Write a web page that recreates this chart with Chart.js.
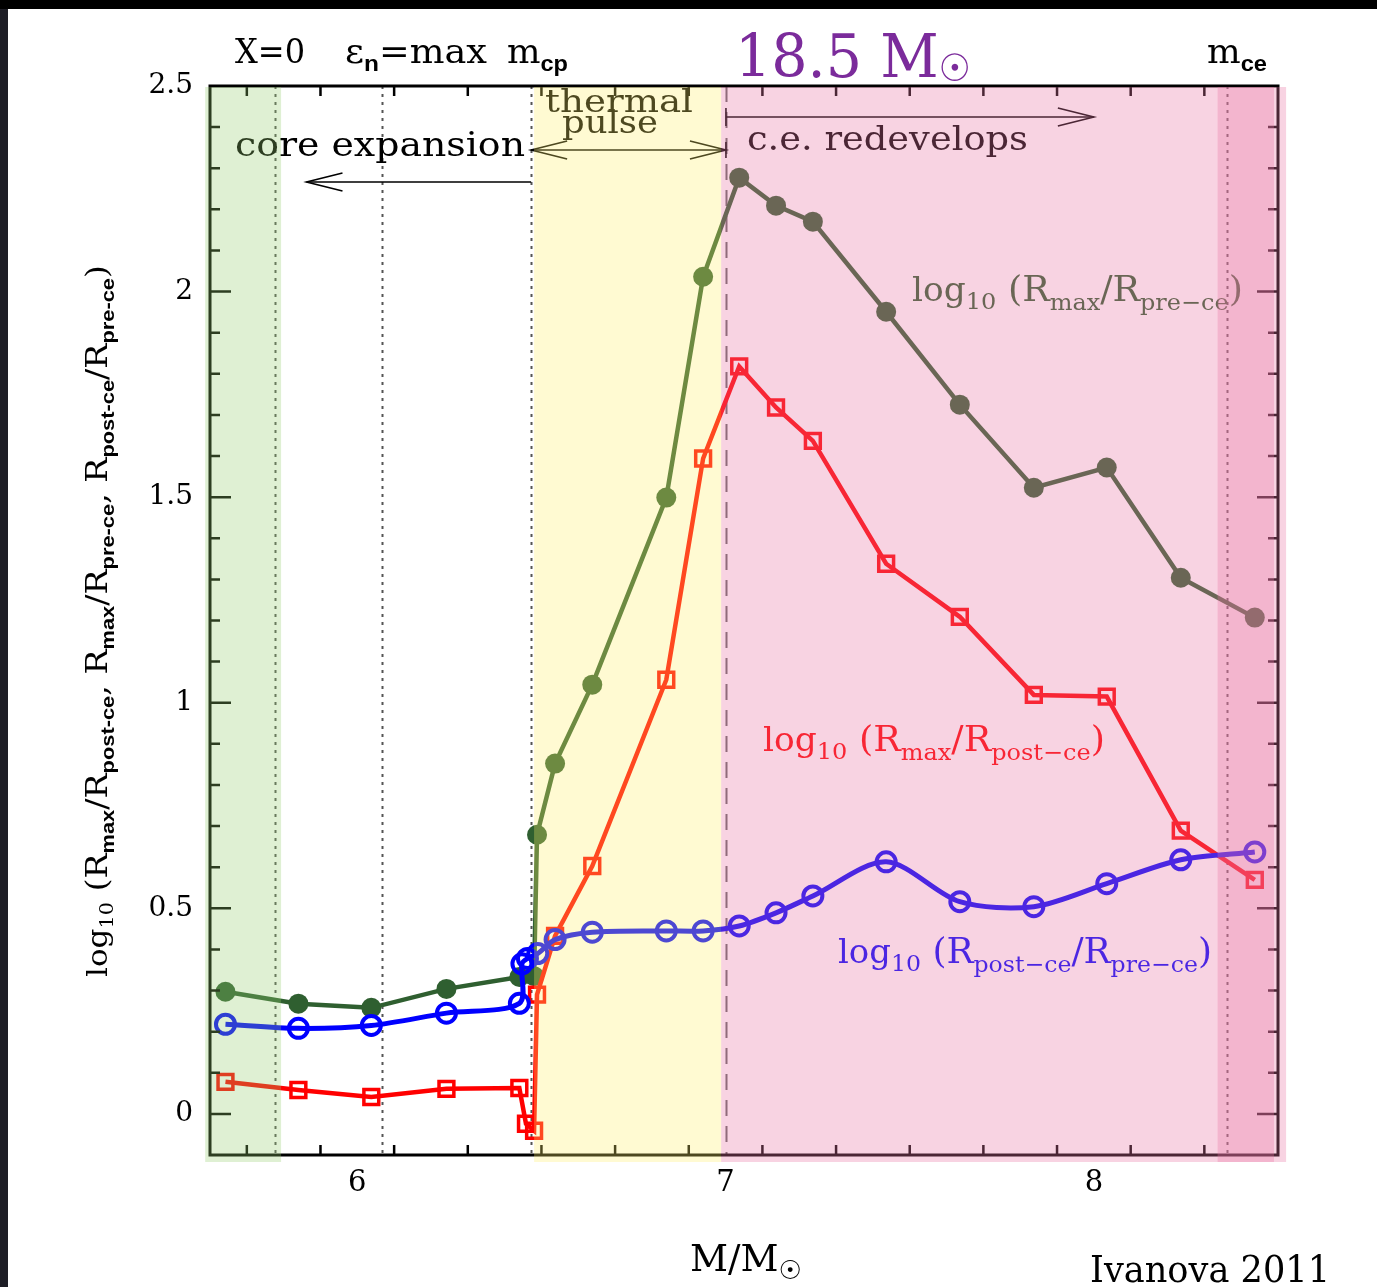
<!DOCTYPE html>
<html>
<head>
<meta charset="utf-8">
<script src="https://cdn.jsdelivr.net/npm/chart.js@4.4.1/dist/chart.umd.min.js"></script>
<style>
  html, body { margin: 0; padding: 0; background: #fff; }
  canvas { display: block; }
</style>
</head>
<body>
<canvas id="chart" width="1377" height="1287"></canvas>
<script>
// core mass coordinate (M/Msun) and the three log ratios
const massGreen = [5.642, 5.840, 6.038, 6.242, 6.440, 6.480, 6.488, 6.537, 6.638, 6.839, 6.939, 7.037, 7.137, 7.237, 7.436, 7.636, 7.837, 8.035, 8.236, 8.437];
const logMaxPre = [0.297, 0.268, 0.258, 0.304, 0.333, 0.335, 0.679, 0.852, 1.044, 1.499, 2.036, 2.277, 2.209, 2.170, 1.951, 1.725, 1.523, 1.572, 1.304, 1.207];

const massRed = [5.642, 5.840, 6.038, 6.242, 6.440, 6.458, 6.480, 6.488, 6.537, 6.638, 6.839, 6.939, 7.037, 7.137, 7.237, 7.436, 7.636, 7.837, 8.035, 8.236, 8.437];
const logMaxPost = [0.078, 0.058, 0.041, 0.061, 0.063, -0.024, -0.041, 0.290, 0.433, 0.603, 1.056, 1.594, 1.818, 1.718, 1.637, 1.338, 1.209, 1.019, 1.015, 0.689, 0.569];

const massBlue = [5.642, 5.840, 6.038, 6.242, 6.440, 6.447, 6.462, 6.490, 6.537, 6.638, 6.839, 6.939, 7.037, 7.137, 7.237, 7.436, 7.636, 7.837, 8.035, 8.236, 8.437];
const logPostPre = [0.218, 0.208, 0.215, 0.245, 0.269, 0.365, 0.378, 0.390, 0.424, 0.442, 0.445, 0.445, 0.457, 0.489, 0.530, 0.613, 0.516, 0.504, 0.560, 0.618, 0.637];

const xTickValues = [6, 7, 8];
const xTickLabels = ['6', '7', '8'];
const yTickValues = [0, 0.5, 1, 1.5, 2, 2.5];
const yTickLabels = ['0', '0.5', '1', '1.5', '2', '2.5'];

// phase markers (vertical lines) and shaded phases
const markerMass = [5.777, 6.068, 6.472, 7.001, 8.361];
const bandFrom = [5.587, 6.480, 6.988, 8.336];
const bandTo = [5.793, 6.988, 8.522, 8.489];

const GREEN = '#2f5f30';
const RED = '#ff0000';
const BLUE = '#0000ff';
const bandFill = ['rgba(148,205,108,0.3)', 'rgba(255,238,105,0.3)', 'rgba(233,118,164,0.32)', 'rgba(233,118,164,0.32)'];

const S = size => size + 'px "DejaVu Serif"';
const B = size => 'bold ' + size + 'px "Liberation Sans"';

function richWidth(ctx, parts) {
  let w = 0;
  for (const p of parts) { ctx.font = p.f; w += ctx.measureText(p.t).width; }
  return w;
}

// draws a run of text pieces (for subscripts) squeezed to a given width
function drawRich(ctx, parts, x, y, width, color, rotate) {
  const nat = richWidth(ctx, parts);
  ctx.save();
  ctx.translate(x, y);
  if (rotate) ctx.rotate(-Math.PI / 2);
  ctx.scale(width / nat, 1);
  ctx.fillStyle = color;
  ctx.textAlign = 'left';
  ctx.textBaseline = 'alphabetic';
  let cx = 0;
  for (const p of parts) {
    ctx.font = p.f;
    ctx.fillText(p.t, cx, p.dy || 0);
    cx += ctx.measureText(p.t).width;
  }
  ctx.restore();
}

function arrowHead(ctx, x, y, dir) {
  ctx.beginPath();
  ctx.moveTo(x - dir * 36, y - 9);
  ctx.lineTo(x, y);
  ctx.lineTo(x - dir * 36, y + 9);
  ctx.stroke();
}

const decor = {
  id: 'decor',
  beforeDraw(chart) {
    const c = chart.ctx;
    c.save();
    c.fillStyle = '#fff';
    c.fillRect(0, 0, chart.width, chart.height);
    c.fillStyle = '#000';
    c.fillRect(0, 0, chart.width, 9);
    c.fillStyle = '#1e1e26';
    c.fillRect(0, 9, 8, chart.height);
    c.restore();
  },
  beforeDatasetsDraw(chart) {
    const c = chart.ctx, a = chart.chartArea, xs = chart.scales.x;
    c.save();
    markerMass.forEach((m, i) => {
      const px = Math.round(xs.getPixelForValue(m)) + 0.5;
      c.strokeStyle = i === 3 ? '#666' : '#555';
      c.lineWidth = 2;
      c.setLineDash(i === 3 ? [16, 10] : [3, 5]);
      c.beginPath();
      c.moveTo(px, a.top);
      c.lineTo(px, a.bottom);
      c.stroke();
    });
    c.restore();
  },
  afterDatasetsDraw(chart) {
    const c = chart.ctx, a = chart.chartArea, xs = chart.scales.x, ys = chart.scales.y;
    c.save();
    // frame
    c.strokeStyle = '#000';
    c.lineWidth = 3;
    c.strokeRect(a.left, a.top, a.right - a.left, a.bottom - a.top);
    // inward ticks on all sides
    c.lineWidth = 2.5;
    c.beginPath();
    for (let k = 29; k < 85; k += 2) {
      const v = k / 10;
      if (v <= xs.min || v >= xs.max) continue;
      const px = xs.getPixelForValue(v);
      const len = k % 10 === 0 ? 21 : 10;
      c.moveTo(px, a.bottom); c.lineTo(px, a.bottom - len);
      c.moveTo(px, a.top); c.lineTo(px, a.top + len);
    }
    for (let k = 0; k < 25; k++) {
      const v = k / 10;
      const py = ys.getPixelForValue(v);
      const len = k % 5 === 0 ? 21 : 10;
      c.moveTo(a.left, py); c.lineTo(a.left + len, py);
      c.moveTo(a.right, py); c.lineTo(a.right - len, py);
    }
    c.stroke();

    // phase arrows
    const xCp = xs.getPixelForValue(markerMass[2]);
    const xTp = xs.getPixelForValue(markerMass[3]);
    c.lineWidth = 1.6;
    c.strokeStyle = '#000';
    c.beginPath();
    c.moveTo(xCp, 182); c.lineTo(xs.getPixelForValue(5.862), 182);
    c.moveTo(xCp, 150); c.lineTo(xTp, 150);
    c.moveTo(xTp, 117); c.lineTo(xs.getPixelForValue(8.0), 117);
    c.moveTo(xTp, 108); c.lineTo(xTp, 126);
    c.moveTo(xTp, 142); c.lineTo(xTp, 158);
    c.stroke();
    arrowHead(c, xs.getPixelForValue(5.862), 182, -1);
    arrowHead(c, xCp, 150, -1);
    arrowHead(c, xTp, 150, 1);
    arrowHead(c, xs.getPixelForValue(8.0), 117, 1);

    drawRich(c, [{t: 'thermal', f: S(32)}], 545, 112, 148, '#000');
    drawRich(c, [{t: 'pulse', f: S(32)}], 562, 133, 96, '#000');
    drawRich(c, [{t: 'core expansion', f: S(33)}], 235, 156, 290, '#000');
    drawRich(c, [{t: 'c.e. redevelops', f: S(33)}], 747, 150, 281, '#000');

    const lab = (r1, r2) => [
      {t: 'log', f: S(33)}, {t: '10', f: S(23), dy: 8}, {t: ' (R', f: S(35)},
      {t: r1, f: S(23), dy: 9}, {t: '/R', f: S(35)}, {t: r2, f: S(23), dy: 9}, {t: ')', f: S(35)}
    ];
    drawRich(c, lab('max', 'pre\u2212ce'), 912, 301, 331, GREEN);
    drawRich(c, lab('max', 'post\u2212ce'), 763, 751, 342, RED);
    drawRich(c, lab('post\u2212ce', 'pre\u2212ce'), 838, 963, 374, BLUE);
    c.restore();
  },
  afterDraw(chart) {
    const c = chart.ctx, xs = chart.scales.x;
    c.save();
    // translucent phase shading laid over everything, as in the original
    bandFrom.forEach((m, i) => {
      const x0 = xs.getPixelForValue(m), x1 = xs.getPixelForValue(bandTo[i]);
      c.fillStyle = bandFill[i];
      c.fillRect(x0, 87, x1 - x0, 1162 - 87);
    });

    // labels above the frame
    drawRich(c, [{t: 'X=0', f: S(33)}], 235, 63, 70, '#000');
    drawRich(c, [{t: '\u03b5', f: S(33)}, {t: 'n', f: B(22), dy: 8}, {t: '=max', f: S(33)}], 345, 63, 142, '#000');
    drawRich(c, [{t: 'm', f: S(33)}, {t: 'cp', f: B(22), dy: 8}], 507, 63, 61, '#000');
    drawRich(c, [{t: 'm', f: S(33)}, {t: 'ce', f: B(22), dy: 8}], 1207, 63, 60, '#000');
    drawRich(c, [{t: '18.5 M', f: S(60)}, {t: '\u2609', f: '38px "DejaVu Sans"', dy: 4}], 735, 77, 236, '#7b2b9b');

    // axis titles and credit
    drawRich(c, [{t: 'M/M', f: S(37)}, {t: '\u2609', f: '26px "DejaVu Sans"', dy: 8}], 690, 1271, 112, '#000');
    drawRich(c, [{t: 'Ivanova 2011', f: S(37)}], 1090, 1282, 240, '#000');
    const yt = [
      {t: 'log', f: S(27)}, {t: '10', f: S(18), dy: 6}, {t: ' (R', f: S(29)},
      {t: 'max', f: B(19), dy: 7}, {t: '/R', f: S(29)}, {t: 'post-ce', f: B(19), dy: 7}, {t: ', R', f: S(29)},
      {t: 'max', f: B(19), dy: 7}, {t: '/R', f: S(29)}, {t: 'pre-ce', f: B(19), dy: 7}, {t: ', R', f: S(29)},
      {t: 'post-ce', f: B(19), dy: 7}, {t: '/R', f: S(29)}, {t: 'pre-ce', f: B(19), dy: 7}, {t: ')', f: S(29)}
    ];
    drawRich(c, yt, 107, 977, 712, '#000', true);
    c.restore();
  }
};

const pts = (xs, ys) => xs.map((m, i) => ({x: m, y: ys[i]}));

new Chart(document.getElementById('chart'), {
  type: 'line',
  data: {
    datasets: [
      {
        label: 'log10(Rpost-ce/Rpre-ce)',
        data: pts(massBlue, logPostPre),
        borderColor: BLUE,
        borderWidth: 5,
        tension: 0.3,
        pointStyle: 'circle',
        pointRadius: 9.5,
        pointBorderWidth: 4,
        pointBorderColor: BLUE,
        pointBackgroundColor: 'rgba(0,0,0,0)',
        order: 0
      },
      {
        label: 'log10(Rmax/Rpost-ce)',
        data: pts(massRed, logMaxPost),
        borderColor: RED,
        borderWidth: 4.5,
        tension: 0,
        pointStyle: 'rect',
        pointRadius: 10.5,
        pointBorderWidth: 3.5,
        pointBorderColor: RED,
        pointBackgroundColor: 'rgba(0,0,0,0)',
        order: 1
      },
      {
        label: 'log10(Rmax/Rpre-ce)',
        data: pts(massGreen, logMaxPre),
        borderColor: GREEN,
        borderWidth: 4.5,
        tension: 0,
        pointStyle: 'circle',
        pointRadius: 10,
        pointBorderWidth: 0,
        pointBackgroundColor: GREEN,
        order: 2
      }
    ]
  },
  options: {
    responsive: false,
    animation: false,
    devicePixelRatio: 1,
    layout: { padding: { left: 0, top: 86, right: 99, bottom: 0 } },
    plugins: { legend: { display: false }, tooltip: { enabled: false } },
    scales: {
      x: {
        type: 'linear',
        min: 5.6,
        max: 8.5,
        afterBuildTicks: s => { s.ticks = xTickValues.map(v => ({value: v})); },
        afterFit: s => { s.height = 132; },
        ticks: {
          callback: v => xTickLabels[xTickValues.indexOf(v)],
          font: { family: 'DejaVu Serif', size: 29 },
          color: '#000',
          padding: 11,
          maxRotation: 0,
          autoSkip: false
        },
        grid: { display: false, drawTicks: false },
        border: { display: false }
      },
      y: {
        type: 'linear',
        min: -0.1,
        max: 2.5,
        afterBuildTicks: s => { s.ticks = yTickValues.map(v => ({value: v})); },
        afterFit: s => { s.width = 210; },
        ticks: {
          callback: v => yTickLabels[yTickValues.indexOf(v)],
          font: { family: 'DejaVu Serif', size: 28 },
          color: '#000',
          padding: 17,
          autoSkip: false
        },
        grid: { display: false, drawTicks: false },
        border: { display: false }
      }
    }
  },
  plugins: [decor]
});
</script>
</body>
</html>
